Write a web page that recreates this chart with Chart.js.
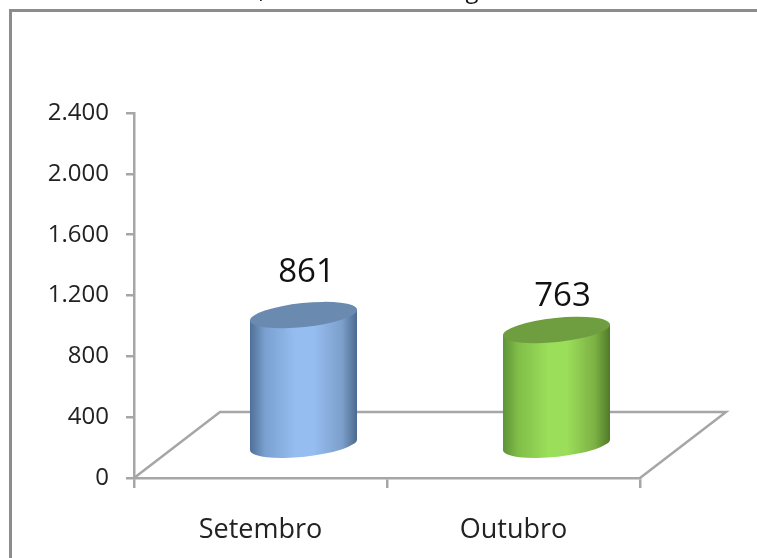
<!DOCTYPE html>
<html>
<head>
<meta charset="utf-8">
<style>
  html, body { margin: 0; padding: 0; background: #fff; overflow: hidden; }
  #chart { position: absolute; left: 0; top: 0; }
</style>
<script src="https://cdn.jsdelivr.net/npm/chart.js@4"></script>
</head>
<body>
<canvas id="chart" width="757" height="558"></canvas>
<script>
const categories = ['Setembro', 'Outubro'];
const values = [861, 763];
const tickLabels = ['0', '400', '800', '1.200', '1.600', '2.000', '2.400'];

const FONT = '"Open Sans", sans-serif';
const AXIS_GREY = '#a6a6a6';
const DEPTH_X = 86;
const DEPTH_Y = 66;

const barColors = [
  { edgeL: '#4f7097', soft: '#79a0cf', mid: '#95bdf0', softR: '#7d9fcb', edgeR: '#4c6a8e', top: '#6b8ab0' },
  { edgeL: '#5f9338', soft: '#80bd48', mid: '#9bde5a', softR: '#7cb044', edgeR: '#4f7a28', top: '#6f9e40' }
];
const labelLift = [42, 33];

// outer frame of the slide, runs off the right and bottom of the picture
// the two marks at the very top are what is left of a title cut off by the crop
const framePlugin = {
  id: 'frame',
  beforeDraw(chart) {
    const c = chart.ctx;
    c.save();
    c.strokeStyle = '#8c8c8c';
    c.lineWidth = 3;
    c.beginPath();
    c.moveTo(10.5, 570);
    c.lineTo(10.5, 10.5);
    c.lineTo(770, 10.5);
    c.stroke();
    c.fillStyle = '#111';
    c.font = '24px ' + FONT;
    c.textAlign = 'center';
    c.textBaseline = 'alphabetic';
    c.fillText(',', 262, -2);
    c.fillText('g', 472, -2);
    c.restore();
  }
};

// the 3D floor behind the bars
const floorPlugin = {
  id: 'floor',
  beforeDatasetsDraw(chart) {
    const { left, right, bottom } = chart.chartArea;
    const c = chart.ctx;
    c.save();
    c.strokeStyle = AXIS_GREY;
    c.lineWidth = 2.5;
    c.beginPath();
    c.moveTo(left, bottom);
    c.lineTo(left + DEPTH_X, bottom - DEPTH_Y);
    c.lineTo(right + DEPTH_X, bottom - DEPTH_Y);
    c.lineTo(right, bottom);
    c.stroke();
    c.restore();
  }
};

// paints each bar element as a cylinder standing mid-way on the floor
const cylinderPlugin = {
  id: 'cylinder',
  afterDatasetsDraw(chart) {
    const c = chart.ctx;
    const tilt = -6 * Math.PI / 180;
    chart.getDatasetMeta(0).data.forEach((bar, i) => {
      const col = barColors[i];
      const cx = bar.x + DEPTH_X / 2;
      const yTop = bar.y - 32;
      const yBase = bar.base - 32;
      const rx = bar.width / 2 / Math.cos(tilt);
      const ry = 12;
      const dy = rx * Math.sin(tilt);
      const hw = bar.width / 2;

      const grad = c.createLinearGradient(cx - hw, 0, cx + hw, 0);
      grad.addColorStop(0, col.edgeL);
      grad.addColorStop(0.14, col.soft);
      grad.addColorStop(0.42, col.mid);
      grad.addColorStop(0.6, col.mid);
      grad.addColorStop(0.86, col.softR);
      grad.addColorStop(1, col.edgeR);

      c.save();
      c.fillStyle = grad;
      c.beginPath();
      c.moveTo(cx - hw, yTop - dy);
      c.lineTo(cx - hw, yBase - dy);
      c.ellipse(cx, yBase, rx, ry, tilt, Math.PI, 0, true);
      c.lineTo(cx + hw, yTop + dy);
      c.closePath();
      c.fill();

      c.fillStyle = col.top;
      c.beginPath();
      c.ellipse(cx, yTop, rx, ry, tilt, 0, Math.PI * 2);
      c.fill();

      c.fillStyle = '#111';
      c.font = '33px ' + FONT;
      c.textAlign = 'center';
      c.textBaseline = 'middle';
      c.fillText(values[i], cx + 3 + i * 3, yTop - labelLift[i]);
      c.restore();
    });
  }
};

new Chart(document.getElementById('chart'), {
  type: 'bar',
  data: {
    labels: categories,
    datasets: [{
      data: values,
      backgroundColor: 'rgba(0,0,0,0)',
      categoryPercentage: 1,
      barPercentage: 0.423
    }]
  },
  options: {
    responsive: false,
    animation: false,
    layout: { padding: { top: 113, right: 117, left: 0, bottom: 0 } },
    plugins: { legend: { display: false }, title: { display: false }, tooltip: { enabled: false } },
    scales: {
      x: {
        afterFit(s) { s.height = 80; },
        border: { color: AXIS_GREY, width: 2.5 },
        grid: { offset: true, drawOnChartArea: false, color: AXIS_GREY, lineWidth: 2.5, tickLength: 10 },
        ticks: { color: '#222', font: { family: FONT, size: 27 }, padding: 26, maxRotation: 0 }
      },
      y: {
        min: 0,
        max: 2400,
        afterFit(s) { s.width = 134; },
        border: { color: AXIS_GREY, width: 2.5 },
        grid: { drawOnChartArea: false, color: AXIS_GREY, lineWidth: 2.5, tickLength: 8 },
        ticks: {
          stepSize: 400,
          color: '#222',
          font: { family: FONT, size: 24 },
          padding: 17,
          callback: (v, i) => tickLabels[i]
        }
      }
    }
  },
  plugins: [framePlugin, floorPlugin, cylinderPlugin]
});
</script>
</body>
</html>
